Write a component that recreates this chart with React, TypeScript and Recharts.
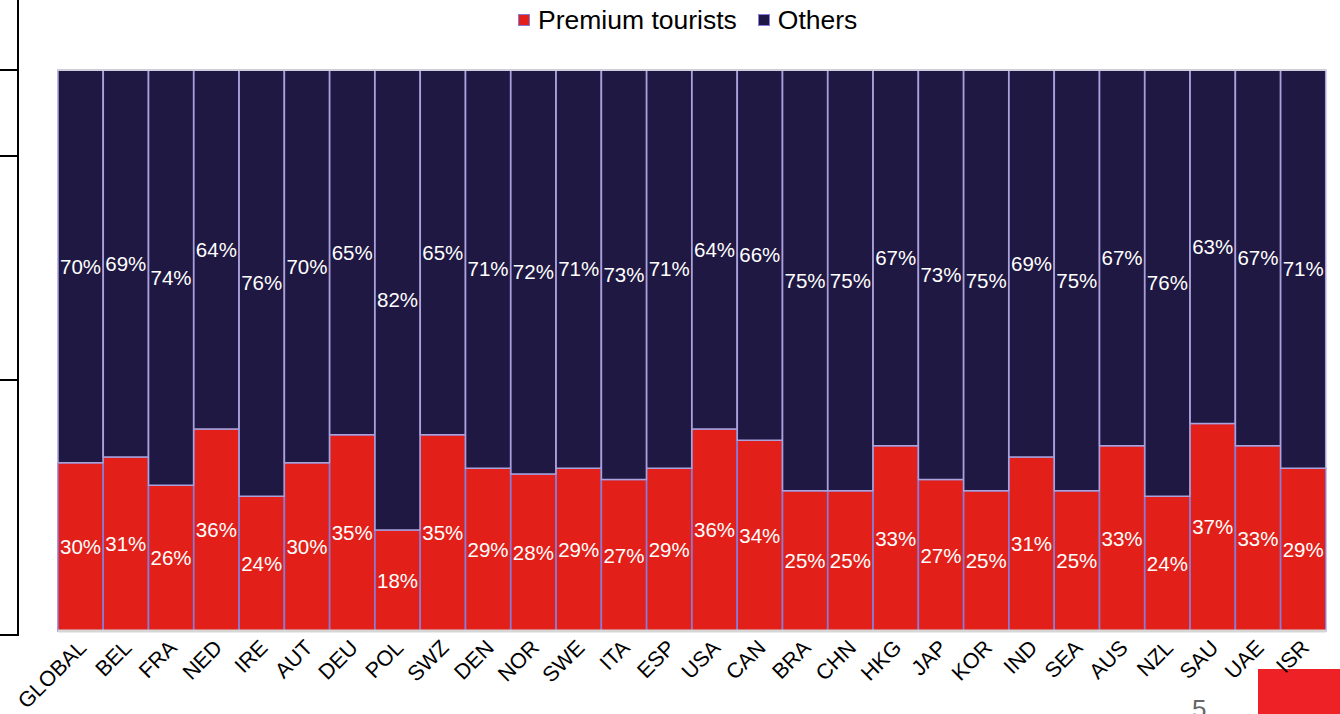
import { BarChart, Bar, XAxis, YAxis, LabelList, ReferenceLine } from 'recharts';

const countries = [
  'GLOBAL', 'BEL', 'FRA', 'NED', 'IRE', 'AUT', 'DEU', 'POL', 'SWZ', 'DEN',
  'NOR', 'SWE', 'ITA', 'ESP', 'USA', 'CAN', 'BRA', 'CHN', 'HKG', 'JAP',
  'KOR', 'IND', 'SEA', 'AUS', 'NZL', 'SAU', 'UAE', 'ISR',
];
const premium = [30, 31, 26, 36, 24, 30, 35, 18, 35, 29, 28, 29, 27, 29, 36, 34, 25, 25, 33, 27, 25, 31, 25, 33, 24, 37, 33, 29];
const others = [70, 69, 74, 64, 76, 70, 65, 82, 65, 71, 72, 71, 73, 71, 64, 66, 75, 75, 67, 73, 75, 69, 75, 67, 76, 63, 67, 71];

const RED = '#e31f19';
const DARK = '#1f1842';
const EDGE = '#8a7bd6';
const FONT = '"Liberation Sans", Arial, sans-serif';

const chartData = countries.map((c, i) => ({
  country: c,
  premium: premium[i],
  others: others[i],
}));

const pct = (v: any) => `${v}%`;

function RotatedTick(props: any) {
  const { x, y, payload } = props;
  return (
    <g transform={`translate(${x + 7},${y + 10})`}>
      <text
        transform="rotate(-45)"
        textAnchor="end"
        fontSize={21.5}
        fill="#000"
        fontFamily={FONT}
      >
        {payload.value}
      </text>
    </g>
  );
}

// legend drawn as a plain overlay so the plot keeps its top edge
function TopLegend() {
  const items = [
    { name: 'Premium tourists', color: RED },
    { name: 'Others', color: DARK },
  ];
  return (
    <div
      style={{
        position: 'absolute',
        top: 4,
        left: 518,
        display: 'flex',
        gap: 21,
        fontFamily: FONT,
        fontSize: 26.5,
        lineHeight: '32px',
      }}
    >
      {items.map((it) => (
        <div key={it.name} style={{ display: 'flex', alignItems: 'center' }}>
          <span
            style={{
              display: 'inline-block',
              width: 10,
              height: 10,
              background: it.color,
              border: `1px solid ${EDGE}`,
              marginRight: 8,
            }}
          />
          <span style={{ color: '#000' }}>{it.name}</span>
        </div>
      ))}
    </div>
  );
}

export default function App() {
  return (
    <div style={{ position: 'absolute', left: 0, top: 0, width: 1340, height: 714, overflow: 'hidden', background: '#fff' }}>
      {/* slide leftovers */}
      <div style={{ position: 'absolute', left: 17, top: 0, width: 2, height: 636, background: '#000' }} />
      <div style={{ position: 'absolute', left: 0, top: 69, width: 18, height: 2, background: '#000' }} />
      <div style={{ position: 'absolute', left: 0, top: 155, width: 18, height: 2, background: '#000' }} />
      <div style={{ position: 'absolute', left: 0, top: 379, width: 18, height: 2, background: '#000' }} />
      <div style={{ position: 'absolute', left: 0, top: 634, width: 19, height: 2, background: '#000' }} />
      <div style={{ position: 'absolute', left: 1192, top: 694, fontFamily: FONT, fontSize: 26, color: '#666' }}>5</div>
      <div style={{ position: 'absolute', left: 1258, top: 669, width: 82, height: 45, background: '#ee2127' }} />

      <TopLegend />

      <div style={{ position: 'absolute', left: 0, top: 0 }}>
        <BarChart
          width={1340}
          height={714}
          data={chartData}
          margin={{ top: 70, right: 14, left: 58, bottom: 0 }}
          barCategoryGap={0}
          barGap={0}
        >
          <XAxis
            dataKey="country"
            interval={0}
            tickLine={false}
            axisLine={{ stroke: '#d6d6d6', strokeWidth: 3 }}
            height={83}
            tick={<RotatedTick />}
          />
          <YAxis hide domain={[0, 100]} />
          <Bar dataKey="premium" name="Premium tourists" stackId="a" fill={RED} stroke={EDGE} strokeWidth={1.5} isAnimationActive={false}>
            <LabelList dataKey="premium" position="center" formatter={pct} fill="#fff" fontSize={20.5} fontFamily={FONT} />
          </Bar>
          <Bar dataKey="others" name="Others" stackId="a" fill={DARK} stroke="#aaa2dc" strokeWidth={1.5} isAnimationActive={false}>
            <LabelList dataKey="others" position="center" formatter={pct} fill="#fff" fontSize={20.5} fontFamily={FONT} />
          </Bar>
          <ReferenceLine y={100} stroke="#cfcfdc" strokeWidth={2} />
        </BarChart>
      </div>
    </div>
  );
}
